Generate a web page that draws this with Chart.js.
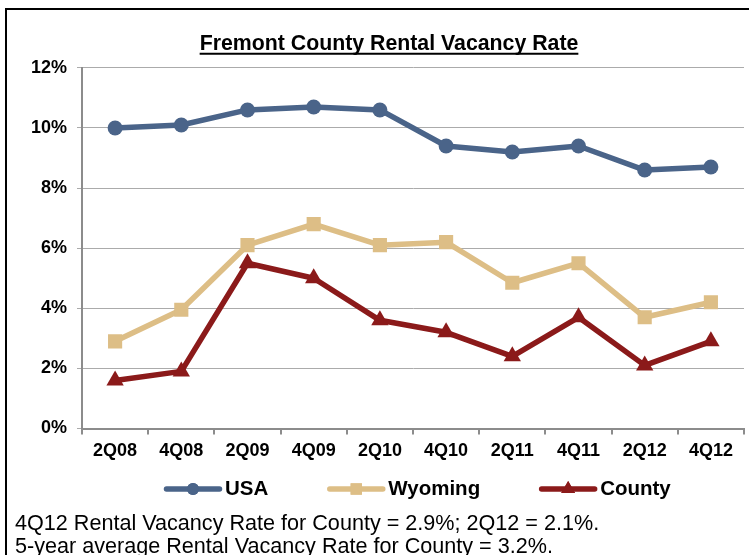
<!DOCTYPE html>
<html>
<head>
<meta charset="utf-8">
<script src="https://cdn.jsdelivr.net/npm/chart.js@4/dist/chart.umd.min.js"></script>
<style>
  html, body { margin: 0; padding: 0; background: #fff; }
  body { width: 749px; height: 555px; position: relative; overflow: hidden; }
  #frame { position: absolute; left: 5px; top: 8px; width: 900px; height: 700px;
           border-left: 2px solid #000; border-top: 2px solid #000; }
  #wrap { position: absolute; left: 0; top: 0; width: 754px; height: 555px; }
  .note { position: absolute; left: 15px; font-family: "Liberation Sans", Arial, sans-serif;
          font-size: 21.6px; color: #000; white-space: nowrap; line-height: 22px; }
</style>
</head>
<body>
<div id="frame"></div>
<div id="wrap"><canvas id="c" width="754" height="555"></canvas></div>
<div class="note" style="top:512px">4Q12 Rental Vacancy Rate for County = 2.9%; 2Q12 = 2.1%.</div>
<div class="note" style="top:535px">5-year average Rental Vacancy Rate for County = 3.2%.</div>
<script>
const categories = ['2Q08','4Q08','2Q09','4Q09','2Q10','4Q10','2Q11','4Q11','2Q12','4Q12'];
const usa     = [10.0, 10.1, 10.6, 10.7, 10.6, 9.4, 9.2, 9.4, 8.6, 8.7];
const wyoming = [2.9, 3.95, 6.1, 6.8, 6.1, 6.2, 4.85, 5.5, 3.7, 4.2];
const county  = [1.6, 1.9, 5.5, 5.0, 3.6, 3.2, 2.4, 3.7, 2.1, 2.9];
const yTickLabels = ['0%','2%','4%','6%','8%','10%','12%'];
const seriesNames = ['USA','Wyoming','County'];
const chartTitle = 'Fremont County Rental Vacancy Rate';

const COLORS = ['#4A6489', '#DDBE86', '#8B1A1A'];
const FONT = '"Liberation Sans", Arial, sans-serif';

const underlineTitle = {
  id: 'underlineTitle',
  afterDraw(chart) {
    const tb = chart.titleBlock;
    if (!tb) return;
    const ctx = chart.ctx;
    const f = tb.options.font;
    ctx.save();
    ctx.font = 'bold ' + f.size + 'px ' + FONT;
    const w = ctx.measureText(tb.options.text).width;
    const cx = (tb.left + tb.right) / 2;
    const lh = f.size * 1.2;
    const midY = tb.top + tb.options.padding.top + lh / 2;
    const y = midY + f.size * 0.47;
    ctx.strokeStyle = '#000';
    ctx.lineWidth = 2;
    ctx.beginPath();
    ctx.moveTo(cx - w / 2, y);
    ctx.lineTo(cx + w / 2, y);
    ctx.stroke();
    ctx.restore();
  }
};

const customLegend = {
  id: 'customLegend',
  afterDraw(chart) {
    const ctx = chart.ctx;
    ctx.save();
    ctx.font = 'bold 20.5px ' + FONT;
    ctx.textBaseline = 'middle';
    ctx.textAlign = 'left';
    let x = 164;
    const y = 489;
    const lineLen = 58, gapText = 3, gapItem = 59;
    chart.data.datasets.forEach((ds) => {
      ctx.strokeStyle = ds.borderColor;
      ctx.lineWidth = 5.5;
      ctx.lineCap = 'round';
      ctx.beginPath();
      ctx.moveTo(x + 2.5, y);
      ctx.lineTo(x + lineLen - 2.5, y);
      ctx.stroke();
      ctx.fillStyle = ds.borderColor;
      ctx.beginPath();
      Chart.helpers.drawPoint(ctx, {
        pointStyle: ds.pointStyle, radius: ds.legendRadius, borderWidth: 0, rotation: 0
      }, x + lineLen / 2, y);
      ctx.fill();
      ctx.fillStyle = '#000';
      const tx = x + lineLen + gapText;
      ctx.fillText(ds.label, tx, y);
      x = tx + ctx.measureText(ds.label).width + gapItem;
    });
    ctx.restore();
  }
};

new Chart(document.getElementById('c'), {
  type: 'line',
  data: {
    labels: categories,
    datasets: [
      { label: seriesNames[0], data: usa, borderColor: COLORS[0], backgroundColor: COLORS[0],
        borderWidth: 5.5, pointStyle: 'circle', pointRadius: 7.5, legendRadius: 6, pointBorderWidth: 0 },
      { label: seriesNames[1], data: wyoming, borderColor: COLORS[1], backgroundColor: COLORS[1],
        borderWidth: 5.5, pointStyle: 'rect', pointRadius: 10, legendRadius: 8, pointBorderWidth: 0 },
      { label: seriesNames[2], data: county, borderColor: COLORS[2], backgroundColor: COLORS[2],
        borderWidth: 5.5, pointStyle: 'triangle', pointRadius: 10, legendRadius: 8, pointBorderWidth: 0 }
    ]
  },
  options: {
    responsive: false,
    animation: false,
    devicePixelRatio: 1,
    layout: { padding: { left: 24, right: 0, top: 0, bottom: 86.9 } },
    elements: { line: { tension: 0, borderJoinStyle: 'round', borderCapStyle: 'round' } },
    plugins: {
      legend: { display: false },
      tooltip: { enabled: false },
      title: {
        display: true, text: chartTitle, color: '#000',
        font: { family: FONT, size: 21.3, weight: 'bold', lineHeight: 1.2 },
        padding: { top: 31, bottom: 11.3 }
      }
    },
    scales: {
      x: {
        offset: true,
        grid: { offset: true, drawOnChartArea: false, drawTicks: true, tickLength: 6, color: '#8C8C8C', lineWidth: 2 },
        border: { display: true, color: '#8C8C8C', width: 2 },
        ticks: { color: '#000', padding: 6, font: { family: FONT, size: 18, weight: 'bold' }, maxRotation: 0 }
      },
      y: {
        min: 0, max: 12,
        afterFit(scale) { scale.width = 58; },
        grid: { color: '#ABABAB', lineWidth: 1, drawTicks: true, tickLength: 5 },
        border: { display: true, color: '#8C8C8C', width: 2 },
        ticks: {
          stepSize: 2, color: '#000', padding: 10,
          font: { family: FONT, size: 18, weight: 'bold' },
          callback: (v) => yTickLabels[Math.round(v / 2)]
        }
      }
    }
  },
  plugins: [underlineTitle, customLegend]
});
</script>
</body>
</html>
